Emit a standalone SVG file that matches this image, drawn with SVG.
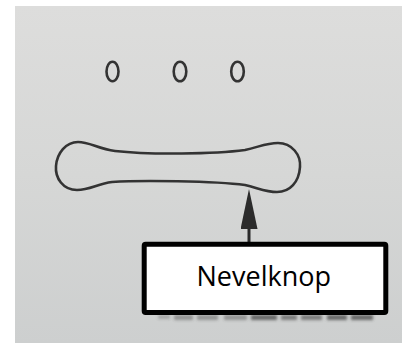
<svg xmlns="http://www.w3.org/2000/svg" width="402" height="345" viewBox="0 0 402 345">
  <defs>
    <linearGradient id="paper" x1="0" y1="0" x2="0" y2="1">
      <stop offset="0" stop-color="#dddddc"/>
      <stop offset="0.5" stop-color="#d6d7d6"/>
      <stop offset="1" stop-color="#cdcfcf"/>
    </linearGradient>
    <filter id="soft" x="-10%" y="-80%" width="120%" height="260%">
      <feGaussianBlur stdDeviation="1.6"/>
    </filter>
    <marker id="head" viewBox="0 0 40 17" refX="0" refY="8.5" markerWidth="40" markerHeight="17" markerUnits="userSpaceOnUse" orient="auto">
      <path d="M0,0 L40,8.5 L0,17 Z" fill="#2b2b2b"/>
    </marker>
    <style>
      .ink { fill: none; stroke: #333333; stroke-width: 2.6; }
      .box { fill: #ffffff; stroke: #000000; stroke-width: 5; }
      .lbl { font-family: "Open Sans", "Noto Sans", "DejaVu Sans", sans-serif; font-size: 27px; fill: #000000; }
      .conn { stroke: #2b2b2b; stroke-width: 3; fill: none; }
      .smudge { fill: #3a3a3a; }
    </style>
  </defs>

  <rect x="0" y="0" width="402" height="345" fill="#ffffff"/>
  <rect x="15" y="6" width="387" height="337" fill="url(#paper)"/>

  <g id="indicators">
    <ellipse class="ink" cx="112.5" cy="71.5" rx="6" ry="9.8"/>
    <ellipse class="ink" cx="180" cy="71.5" rx="6.3" ry="9.8"/>
    <ellipse class="ink" cx="237.5" cy="71.5" rx="6.3" ry="9.8"/>
  </g>

  <g id="mist-button">
    <path class="ink" stroke-width="2.2" d="M78,142 C90,142 98,149 115,151 C150,155 215,154 245,150 C259,147 266,143 278,143 C292,143 301,155 300,167 C299,182 290,192 277,192 C266,192 258,188 245,185 C215,181 140,180 112,182 C97,184 90,190 77,190 C63,190 55,178 56,166 C57,153 66,142 78,142 Z"/>
  </g>

  <g id="print-residue" filter="url(#soft)" opacity="0.7">
    <rect class="smudge" x="158" y="315" width="12" height="4" opacity="0.4"/>
    <rect class="smudge" x="174" y="315" width="19" height="5" opacity="0.6"/>
    <rect class="smudge" x="197" y="315" width="21" height="5" opacity="0.6"/>
    <rect class="smudge" x="224" y="315" width="23" height="5" opacity="0.6"/>
    <rect class="smudge" x="251" y="315" width="26" height="5"/>
    <rect class="smudge" x="281" y="315" width="16" height="5" opacity="0.8"/>
    <rect class="smudge" x="301" y="315" width="21" height="5" opacity="0.8"/>
    <rect class="smudge" x="327" y="315" width="20" height="5"/>
    <rect class="smudge" x="351" y="315" width="22" height="5"/>
  </g>

  <g id="connectors">
    <line class="conn" x1="249" y1="242" x2="249" y2="229" marker-end="url(#head)"/>
  </g>

  <g id="label-nevelknop">
    <rect class="box" x="144.2" y="244.2" width="241.6" height="68.3" rx="1.5"/>
    <text class="lbl" x="196.5" y="286.3">Nevelknop</text>
  </g>
</svg>
